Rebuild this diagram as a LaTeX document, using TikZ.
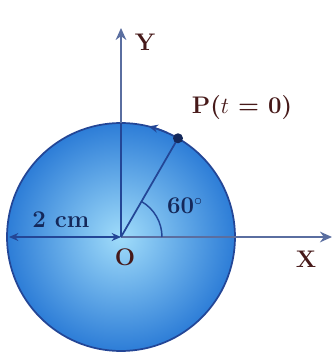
\documentclass[tikz,border=0pt]{standalone}
\usetikzlibrary{arrows.meta}
\definecolor{ringblue}{RGB}{35,70,150}
\definecolor{axisgray}{RGB}{90,110,160}
\definecolor{labelbrown}{RGB}{70,25,25}
\definecolor{innerblue}{RGB}{160,220,250}
\definecolor{outerblue}{RGB}{45,125,215}
\definecolor{navy}{RGB}{20,40,90}
\begin{document}
\begin{tikzpicture}[x=0.75pt,y=0.75pt,
  lbl/.style={font=\fontsize{18}{21}\selectfont\bfseries, text=labelbrown, inner sep=0pt},
  dlbl/.style={font=\fontsize{18}{21}\selectfont\bfseries, text=navy, inner sep=0pt},
  axis/.style={draw=axisgray, line width=1.3pt, -{Stealth[length=9pt,width=8pt]}},
  >={Stealth[length=7pt,width=6pt]}]
\useasboundingbox (-121,-120) rectangle (211,237);
% sphere
\shade[inner color=innerblue, outer color=outerblue] (0,0) circle (114);
\draw[ringblue, line width=1.3pt] (0,0) circle (114);
\coordinate (O) at (0,0);
\coordinate (P) at (60:114);
\coordinate (Ytip) at (0,209);
\coordinate (Xtip) at (211,0);
\coordinate (L) at (180:112);
% axes
\draw[axis] (O) -- (Ytip);
\draw[axis] (O) -- (Xtip);
\draw[ringblue, line width=1.3pt] (O) -- (0,114);
\draw[ringblue, line width=1.1pt, <->] (L) -- (O);
% radius to P
\draw[ringblue, line width=1.3pt] (O) -- (P);
\fill[navy] (P) circle (5);
% motion arrow on circle
\draw[ringblue, line width=1.2pt, ->] (66:114) arc[start angle=66, end angle=76, radius=114];
% angle arc
\draw[ringblue, line width=1.1pt] (41,0) arc[start angle=0, end angle=60, radius=41];
% labels
\node[lbl] (Ylab) at (24,195) {Y};
\node[lbl] (Plab) at (121,129) {P($t$ = 0)};
\node[lbl] (Xlab) at (185,-22) {X};
\node[lbl] (Olab) at (4,-20) {O};
\node[dlbl] (cm) at (-60,17) {2 cm};
\node[dlbl] (ang) at (64,31) {60$^{\circ}$};
\end{tikzpicture}
\end{document}
